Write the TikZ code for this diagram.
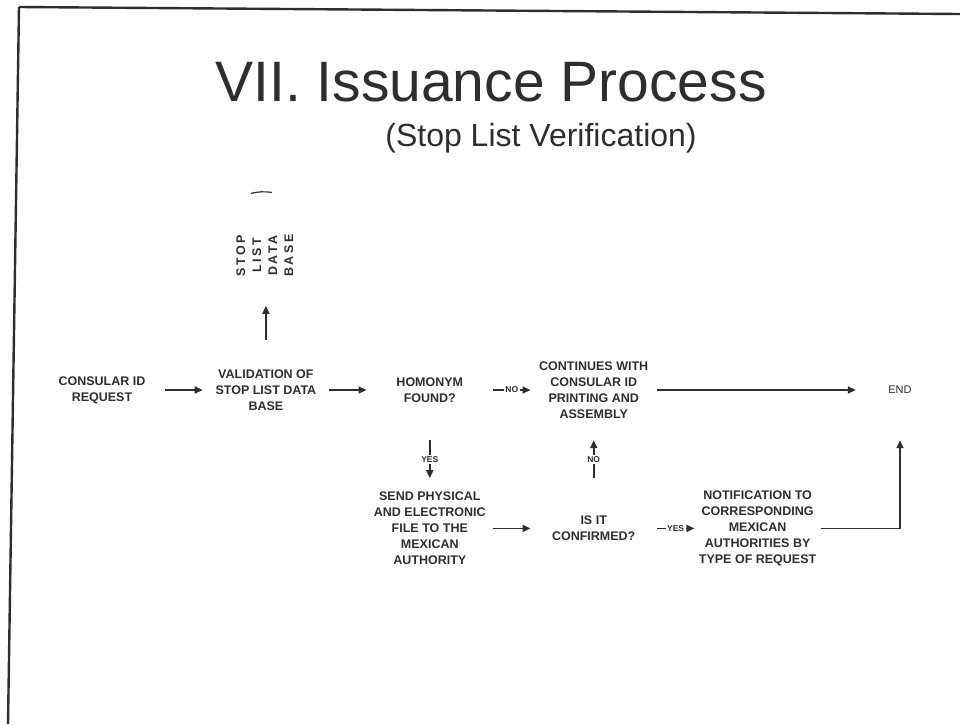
\documentclass[tikz,border=0pt]{standalone}
\usepackage{fontspec}
\setmainfont{Liberation Sans}
\newfontfamily\spacedfont[LetterSpace=20]{Liberation Sans}
\usetikzlibrary{arrows.meta,calc,positioning}
\definecolor{ink}{HTML}{2E2E2E}
\tikzset{
	procbox/.style={
			draw=none, minimum width=126pt, minimum height=100pt, inner sep=0pt,
			align=center, text=ink, font=\bfseries\fontsize{12.5}{16}\selectfont
		},
	flow/.style={line width=1.6pt, draw=ink, -{Triangle[length=8pt,width=7pt]}},
	flowlbl/.style={fill=white, inner sep=1.5pt, text=ink, font=\bfseries\fontsize{8.5}{9}\selectfont}
}

\begin{document}
\begin{tikzpicture}[x=1pt, y=-1pt, node distance=37.5pt]
		\useasboundingbox (0,0) rectangle (960,724);
		% slide frame
		\draw[line width=2.4pt, ink] (19,7) -- (960,14);
		\draw[line width=2.4pt, ink] (19,7) -- (8,724);
		\node[anchor=base, text=ink, font=\fontsize{57}{60}\selectfont] (title) at (491,101) {VII. Issuance Process};
		\node[anchor=base, text=ink, font=\fontsize{32}{36}\selectfont] (subtitle) at (541,146) {(Stop List Verification)};
		% main row
		\node[procbox] (request) at (102,390) {CONSULAR ID\\REQUEST};
		\node[procbox, right=of request] (valid) {VALIDATION OF\\STOP LIST DATA\\BASE};
		\node[procbox, right=of valid] (homonym) {HOMONYM\\FOUND?};
		\node[procbox, right=of homonym] (printing) {CONTINUES WITH\\CONSULAR ID\\PRINTING AND\\ASSEMBLY};
		\node[procbox, minimum width=88pt, font=\fontsize{11}{14}\selectfont] (end) at (900,390) {END};
		\node[procbox, minimum width=60pt, above=34pt of valid] (stoplist) {\rotatebox{90}{\spacedfont\bfseries\begin{tabular}{@{}c@{}}STOP\\LIST\\DATA\\BASE\end{tabular}}};
		\draw[line width=1.2pt, ink] ($(stoplist.north)+(-15,-12)$) to[bend left=10] ($(stoplist.north)+(6,-13)$);
		% second row
		\node[procbox, below=38pt of homonym] (send) {SEND PHYSICAL\\AND ELECTRONIC\\FILE TO THE\\MEXICAN\\AUTHORITY};
		\node[procbox, right=of send] (confirm) {IS IT\\CONFIRMED?};
		\node[procbox, right=of confirm] (notify) {NOTIFICATION TO\\CORRESPONDING\\MEXICAN\\AUTHORITIES BY\\TYPE OF REQUEST};
		% connectors
		\draw[flow] (request) -- (valid);
		\draw[flow] (valid) -- (stoplist);
		\draw[flow] (valid) -- (homonym);
		\draw[flow] (homonym) -- node[flowlbl] {NO} (printing);
		\draw[flow] (printing) -- (end);
		\draw[flow] (homonym) -- node[flowlbl] {YES} (send);
		\draw[flow] (send) -- (confirm);
		\draw[flow] (confirm) -- node[flowlbl] {NO} (printing);
		\draw[flow] (confirm) -- node[flowlbl] {YES} (notify);
		\draw[flow] (notify.east) -| (end.south);
	\end{tikzpicture}
\end{document}
